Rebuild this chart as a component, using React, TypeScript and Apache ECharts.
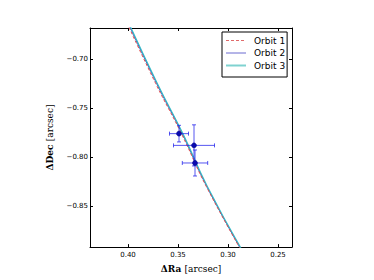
import React, { useEffect, useRef } from "react";
import * as echarts from "echarts";

// Axis ticks
const raTicks = [0.25, 0.3, 0.35, 0.4];
const decTicks = [-0.85, -0.8, -0.75, -0.7];

// Observed positions (ΔRa, ΔDec) with errors
const obsRa = [0.349, 0.334, 0.333];
const obsDec = [-0.776, -0.788, -0.806];
const obsRaErr = [0.0095, 0.0205, 0.0127];
const obsDecErr = [0.0085, 0.021, 0.0133];

// Orbit tracks [ΔRa, ΔDec]
const orbit1 = [
  [0.4032, -0.658],
  [0.3722, -0.725],
  [0.3466, -0.776],
  [0.3217, -0.83],
  [0.2842, -0.9],
];
const orbit2 = [
  [0.4022, -0.658],
  [0.3712, -0.725],
  [0.3458, -0.776],
  [0.3212, -0.83],
  [0.2838, -0.9],
];
const orbit3 = [
  [0.4015, -0.658],
  [0.3706, -0.725],
  [0.3452, -0.776],
  [0.3207, -0.83],
  [0.2832, -0.9],
];

const seriesNames = ["Orbit 1", "Orbit 2", "Orbit 3"];
const seriesColors = ["#e05050", "#3a3ac8", "#35b8c4"];

const fmt = (v: number) => {
  const s = Math.abs(v).toFixed(2);
  return v < 0 ? "\u2212" + s : s;
};

export default function App() {
  const ref = useRef<HTMLDivElement>(null);
  useEffect(() => {
    if (!ref.current) return;
    const chart = echarts.init(ref.current, undefined, { renderer: "svg" });
    const xMin = 0.236;
    const xMax = 0.438;
    const yMin = -0.892;
    const yMax = -0.668;
    const tickFont = { fontFamily: "DejaVu Sans", fontSize: 7, color: "#000" };
    const errData = obsRa.map((r, i) => [r, obsDec[i], obsRaErr[i], obsDecErr[i]]);
    const titleRich = {
      b: { fontFamily: "DejaVu Serif", fontSize: 9, fontWeight: "bold", color: "#000" },
      r: { fontFamily: "DejaVu Serif", fontSize: 9, color: "#000" },
    };
    chart.setOption({
      animation: false,
      backgroundColor: "#fff",
      grid: { left: 90, top: 28, width: 202, height: 224, containLabel: false },
      legend: {
        orient: "vertical",
        left: 222,
        top: 32,
        data: [
          { name: seriesNames[0], lineStyle: { width: 1, color: "#e06a6a", type: [3, 2] } },
          { name: seriesNames[1], lineStyle: { width: 1, color: "#6a6ad0" } },
          { name: seriesNames[2], lineStyle: { width: 2, color: "#7fd2d0" } },
        ],
        backgroundColor: "#fff",
        borderColor: "#000",
        borderWidth: 1,
        padding: [4, 2, 7, 3],
        itemWidth: 20,
        itemHeight: 9,
        itemGap: 3.5,
        itemStyle: { opacity: 0 },
        textStyle: { fontFamily: "DejaVu Sans", fontSize: 9, color: "#000", padding: [0, 0, 0, 3] },
        selectedMode: false,
      },
      xAxis: [
        {
          type: "value",
          inverse: true,
          min: xMin,
          max: xMax,
          position: "bottom",
          name: "{b|ΔRa} {r|[arcsec]}",
          nameLocation: "middle",
          nameGap: 13,
          nameTextStyle: { rich: titleRich },
          axisLine: { show: true, lineStyle: { color: "#000", width: 1 } },
          axisTick: { show: true, inside: true, length: 3, customValues: raTicks, lineStyle: { color: "#000" } },
          axisLabel: { ...tickFont, margin: 4, customValues: raTicks, formatter: (v: number) => fmt(v) },
          splitLine: { show: false },
        },
        {
          type: "value",
          inverse: true,
          min: xMin,
          max: xMax,
          position: "top",
          axisLine: { show: true, lineStyle: { color: "#000", width: 1 } },
          axisTick: { show: true, inside: true, length: 3, customValues: raTicks, lineStyle: { color: "#000" } },
          axisLabel: { show: false },
          splitLine: { show: false },
        },
      ],
      yAxis: [
        {
          type: "value",
          min: yMin,
          max: yMax,
          position: "left",
          name: "{b|ΔDec} {r|[arcsec]}",
          nameLocation: "middle",
          nameGap: 28,
          nameTextStyle: { rich: titleRich },
          axisLine: { show: true, lineStyle: { color: "#000", width: 1 } },
          axisTick: { show: true, inside: true, length: 3, customValues: decTicks, lineStyle: { color: "#000" } },
          axisLabel: { ...tickFont, margin: 2, customValues: decTicks, formatter: (v: number) => fmt(v) },
          splitLine: { show: false },
        },
        {
          type: "value",
          min: yMin,
          max: yMax,
          position: "right",
          axisLine: { show: true, lineStyle: { color: "#000", width: 1 } },
          axisTick: { show: true, inside: true, length: 3, customValues: decTicks, lineStyle: { color: "#000" } },
          axisLabel: { show: false },
          splitLine: { show: false },
        },
      ],
      series: [
        {
          name: seriesNames[0],
          type: "line",
          data: orbit1,
          smooth: true,
          symbol: "none",
          clip: true,
          lineStyle: { color: seriesColors[0], width: 1, type: [3, 2] },
          itemStyle: { color: seriesColors[0] },
          z: 3,
        },
        {
          name: seriesNames[1],
          type: "line",
          data: orbit2,
          smooth: true,
          symbol: "none",
          clip: true,
          lineStyle: { color: seriesColors[1], width: 1 },
          itemStyle: { color: seriesColors[1] },
          z: 2,
        },
        {
          name: seriesNames[2],
          type: "line",
          data: orbit3,
          smooth: true,
          symbol: "none",
          clip: true,
          lineStyle: { color: seriesColors[2], width: 1.3 },
          itemStyle: { color: seriesColors[2] },
          z: 2,
        },
        {
          type: "custom",
          data: errData,
          z: 5,
          renderItem: (params: any, api: any) => {
            const x = api.value(0);
            const y = api.value(1);
            const ex = api.value(2);
            const ey = api.value(3);
            const c = api.coord([x, y]);
            const l = api.coord([x + ex, y]);
            const r = api.coord([x - ex, y]);
            const t = api.coord([x, y + ey]);
            const b = api.coord([x, y - ey]);
            const bar = { stroke: "rgba(30,30,235,0.75)", lineWidth: 1 };
            const cap = 2;
            return {
              type: "group",
              children: [
                { type: "line", shape: { x1: l[0], y1: l[1], x2: r[0], y2: r[1] }, style: bar },
                { type: "line", shape: { x1: t[0], y1: t[1], x2: b[0], y2: b[1] }, style: bar },
                { type: "line", shape: { x1: l[0], y1: l[1] - cap, x2: l[0], y2: l[1] + cap }, style: bar },
                { type: "line", shape: { x1: r[0], y1: r[1] - cap, x2: r[0], y2: r[1] + cap }, style: bar },
                { type: "line", shape: { x1: t[0] - cap, y1: t[1], x2: t[0] + cap, y2: t[1] }, style: bar },
                { type: "line", shape: { x1: b[0] - cap, y1: b[1], x2: b[0] + cap, y2: b[1] }, style: bar },
                { type: "circle", shape: { cx: c[0], cy: c[1], r: 2.5 }, style: { fill: "#0a0ab0", stroke: "#000080", lineWidth: 0.5 } },
              ],
            };
          },
        },
      ],
    });
    return () => chart.dispose();
  }, []);
  return (
    <div style={{ position: "fixed", left: 0, top: 0, width: 374, height: 280, background: "#fff" }}>
      <div ref={ref} style={{ width: 374, height: 280 }} />
    </div>
  );
}
